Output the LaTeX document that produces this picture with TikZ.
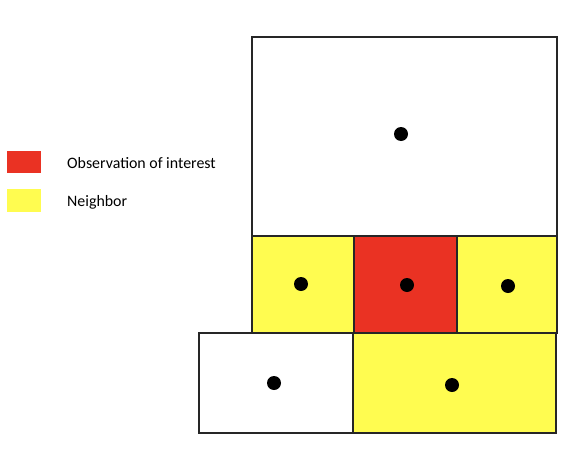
\documentclass[tikz,border=0pt]{standalone}
\usepackage{fontspec}
\setmainfont{Carlito}
\definecolor{obsred}{RGB}{234,50,35}
\definecolor{nbyellow}{RGB}{255,252,80}
\tikzset{
  cell/.style={draw=black!85, line width=1.3pt},
  pt/.style={circle, fill=black, inner sep=0pt, minimum width=14pt, minimum height=13pt},
  legbox/.style={inner sep=0pt, minimum width=34pt, minimum height=22.5pt},
  legtext/.style={anchor=west, inner sep=0pt, font=\fontsize{15.9}{18}\selectfont}
}
\begin{document}
\begin{tikzpicture}[x=1pt,y=-1pt]
\useasboundingbox (0,0) rectangle (576,466);
% cells
\draw[cell, fill=white] (252,37) rectangle (557,236);
\draw[cell, fill=nbyellow] (252,236) rectangle (354,333);
\draw[cell, fill=obsred] (354,236) rectangle (457,333);
\draw[cell, fill=nbyellow] (457,236) rectangle (557,333);
\draw[cell, fill=white] (199,333) rectangle (353,433);
\draw[cell, fill=nbyellow] (353,333) rectangle (556,433);
% dots
\node[pt] (d1) at (401,134) {};
\node[pt] (d2) at (301,284) {};
\node[pt] (d3) at (407,285) {};
\node[pt] (d4) at (508,286) {};
\node[pt] (d5) at (274,383) {};
\node[pt] (d6) at (452,385) {};
% legend
\node[legbox, fill=obsred] (lr) at (24,162) {};
\node[legbox, fill=nbyellow] (ly) at (24,200.5) {};
\node[legtext] (tr) at (67,163) {Observation of interest};
\node[legtext] (ty) at (67,202) {Neighbor};
\end{tikzpicture}
\end{document}
